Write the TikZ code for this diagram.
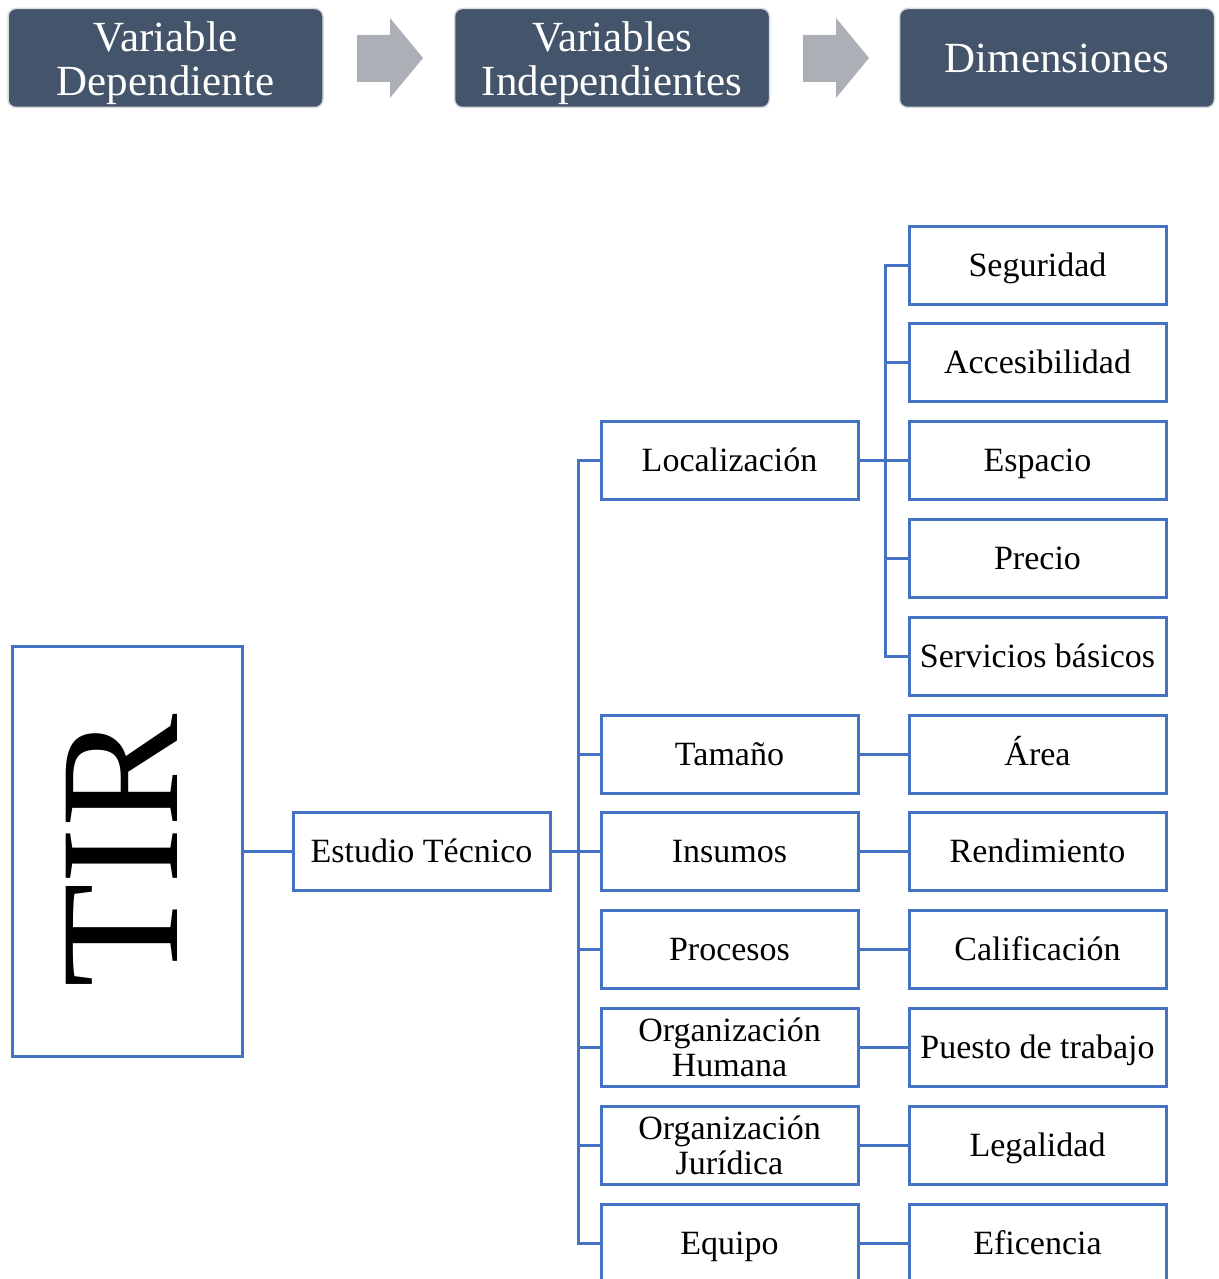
\documentclass[tikz,border=0pt]{standalone}
\usepackage{fontspec}
\setmainfont{Liberation Serif}
\definecolor{slate}{RGB}{68,84,106}
\definecolor{headedge}{RGB}{215,218,222}
\definecolor{boxblue}{RGB}{68,114,196}
\definecolor{arrowgray}{RGB}{172,175,181}
% taller first line so two-line headings sit a little lower
\newcommand{\headstrut}{\rule{0pt}{40pt}}

\begin{document}
\begin{tikzpicture}[x=1pt,y=-1pt,
  head/.style={draw=headedge, line width=1.5pt, fill=slate, rounded corners=8pt,
    minimum width=315pt, minimum height=99pt, inner sep=0pt, text=white,
    align=center, font=\fontsize{43}{44}\selectfont},
  item/.style={draw=boxblue, line width=3pt, minimum width=257pt,
    minimum height=78pt, inner sep=0pt, align=center,
    font=\fontsize{34}{35}\selectfont},
  oneline/.style={item, text height=30pt, text depth=8pt},
  link/.style={draw=boxblue, line width=3pt},
  chevron/.style={fill=arrowgray}]

\useasboundingbox (0,0) rectangle (1218,1279);
\clip (0,0) rectangle (1218,1279);

% header row
\node[head] (h1) at (165.5,58) {\headstrut Variable\\Dependiente};
\node[head] (h2) at (612,58) {\headstrut Variables\\Independientes};
\node[head] (h3) at (1057,58) {Dimensiones};

\fill[chevron] (357,35) -- (390,35) -- (390,18) -- (423,58) -- (390,98) -- (390,82) -- (357,82) -- cycle;
\fill[chevron] (803,35) -- (836,35) -- (836,18) -- (869,58) -- (836,98) -- (836,82) -- (803,82) -- cycle;

% dependent variable
\node[draw=boxblue, line width=3pt, minimum width=230pt, minimum height=410pt] (tir) at (127,851) {};
\node[rotate=90, inner sep=0pt, font=\fontsize{170}{170}\selectfont] (tirtext) at (122,851) {TIR};

\node[oneline] (est) at (421.5,851) {Estudio Técnico};

% independent variables
\node[oneline] (loc) at (729.5,460)  {Localización};
\node[oneline] (tam) at (729.5,754)  {Tamaño};
\node[oneline] (ins) at (729.5,851)  {Insumos};
\node[oneline] (pro) at (729.5,949)  {Procesos};
\node[item]    (oh)  at (729.5,1047) {Organización\\Humana};
\node[item]    (oj)  at (729.5,1145) {Organización\\Jurídica};
\node[oneline] (equ) at (729.5,1243) {Equipo};

% dimensions
\node[oneline] (seg) at (1037.5,265)  {Seguridad};
\node[oneline] (acc) at (1037.5,362)  {Accesibilidad};
\node[oneline] (esp) at (1037.5,460)  {Espacio};
\node[oneline] (pre) at (1037.5,558)  {Precio};
\node[oneline] (ser) at (1037.5,656)  {Servicios básicos};
\node[oneline] (are) at (1037.5,754)  {Área};
\node[oneline] (ren) at (1037.5,851)  {Rendimiento};
\node[oneline] (cal) at (1037.5,949)  {Calificación};
\node[oneline] (pue) at (1037.5,1047) {Puesto de trabajo};
\node[oneline] (leg) at (1037.5,1145) {Legalidad};
\node[oneline] (efi) at (1037.5,1243) {Eficencia};

% connectors
\draw[link] (tir.east) -- (est.west);
\draw[link] (est.east) -- ++(27,0) coordinate (busa);
\foreach \n in {loc,tam,ins,pro,oh,oj,equ}
  \draw[link] (busa) |- (\n.west);
\draw[link] (loc.east) -- ++(26,0) coordinate (busb);
\foreach \n in {seg,acc,esp,pre,ser}
  \draw[link] (busb) |- (\n.west);
\draw[link] (tam.east) -- (are.west);
\draw[link] (ins.east) -- (ren.west);
\draw[link] (pro.east) -- (cal.west);
\draw[link] (oh.east)  -- (pue.west);
\draw[link] (oj.east)  -- (leg.west);
\draw[link] (equ.east) -- (efi.west);
\end{tikzpicture}
\end{document}
